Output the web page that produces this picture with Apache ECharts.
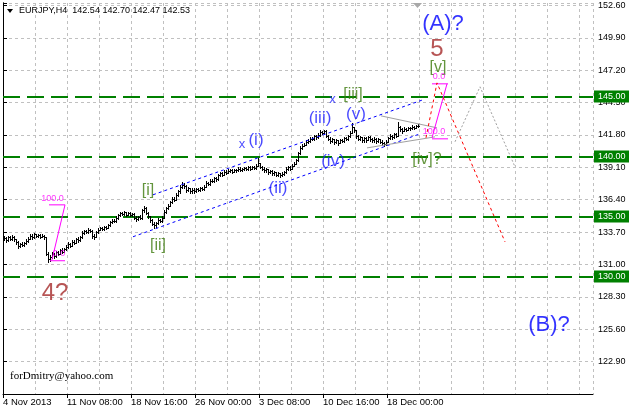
<!DOCTYPE html>
<html><head><meta charset="utf-8">
<script src="https://cdn.jsdelivr.net/npm/echarts@6/dist/echarts.min.js"></script>
<style>html,body{margin:0;padding:0;background:#fff}#c{width:629px;height:410px}</style>
</head><body><div id="c"></div>
<script>
// ---- data ----
var firstOpen = 133.30;
var closes = [133.20,133.05,133.25,133.15,133.30,133.10,
132.85,132.55,132.70,132.60,132.80,132.95,
133.15,133.40,133.25,133.50,133.35,133.45,133.30,133.40,133.25,
131.90,
131.45,131.60,
131.85,131.70,132.00,131.90,132.20,132.05,132.30,132.45,
132.70,132.55,132.90,132.80,133.10,133.00,133.25,
133.60,133.75,133.70,133.85,133.80,
133.35,133.30,
133.70,133.90,134.00,133.95,134.10,134.05,134.25,
134.50,134.65,134.60,134.85,
135.10,135.25,135.20,135.35,135.15,135.30,135.10,135.20,
134.90,134.80,134.95,134.85,
135.50,135.70,
135.30,135.00,134.70,
134.40,134.25,134.45,
134.70,134.60,134.90,
135.40,135.70,135.90,136.20,136.50,136.40,136.80,137.10,
137.45,137.65,137.55,
137.20,137.35,137.10,137.25,137.15,137.30,137.20,137.40,137.30,137.50,
137.80,137.70,138.00,137.95,138.20,138.10,
138.45,138.60,138.50,138.75,138.65,138.80,
138.85,138.75,138.90,138.85,139.00,138.90,138.95,139.05,138.95,139.10,139.00,139.15,139.05,139.25,
139.45,
139.15,139.00,138.85,138.95,138.70,138.80,138.60,138.70,
138.50,138.60,138.45,138.55,138.70,
138.95,139.10,139.00,139.25,139.40,
139.70,140.30,140.70,140.90,141.00,141.20,141.30,
141.50,141.45,141.70,141.60,141.80,
142.05,141.95,142.15,
141.70,141.50,141.30,141.45,141.20,141.35,141.15,141.40,141.30,141.55,141.45,141.70,
142.00,142.45,142.20,
141.70,141.50,141.60,141.35,141.55,141.40,141.60,141.45,141.35,141.50,141.30,141.45,141.25,
141.10,141.05,141.25,
141.55,141.70,141.60,141.85,141.75,
142.50,142.30,
142.15,142.30,142.25,142.40,142.35,142.50,142.40,142.54,142.53];
var highs = [133.40,133.30,133.35,133.40,133.45,133.35,
133.15,132.95,132.80,132.85,132.90,133.10,
133.30,133.55,133.50,133.60,133.55,133.55,133.50,133.55,133.45,
133.30,
132.00,131.75,
132.00,131.95,132.10,132.15,132.30,132.35,132.40,132.60,
132.85,132.80,133.00,133.05,133.20,133.25,133.40,
133.75,133.90,133.85,134.00,133.95,
133.85,133.50,
133.80,134.00,134.15,134.10,134.20,134.20,134.40,
134.65,134.80,134.75,135.00,
135.20,135.40,135.35,135.45,135.40,135.40,135.35,135.30,
135.25,135.00,135.05,135.10,
135.60,135.85,
135.75,135.40,135.05,
134.80,134.50,134.55,
134.85,134.80,135.05,
135.50,135.80,136.05,136.30,136.65,136.60,136.95,137.25,
137.60,137.85,137.80,
137.60,137.45,137.40,137.35,137.35,137.40,137.40,137.50,137.50,137.65,
137.95,137.90,138.10,138.10,138.30,138.30,
138.55,138.75,138.70,138.85,138.85,138.95,
139.00,138.95,139.00,139.00,139.10,139.10,139.05,139.15,139.15,139.20,139.20,139.25,139.25,139.40,
139.85,
139.50,139.25,139.10,139.05,139.00,138.90,138.85,138.80,
138.75,138.70,138.65,138.70,138.80,
139.10,139.20,139.20,139.35,139.55,
139.80,140.40,140.85,141.05,141.15,141.35,141.45,
141.65,141.60,141.80,141.80,141.95,
142.20,142.15,142.25,
142.20,141.80,141.60,141.55,141.50,141.45,141.40,141.50,141.50,141.65,141.65,141.80,
142.15,142.80,142.50,
142.25,141.80,141.75,141.65,141.65,141.60,141.70,141.70,141.55,141.60,141.55,141.55,141.50,
141.35,141.20,141.35,
141.65,141.85,141.80,141.95,141.95,
142.90,142.55,
142.40,142.45,142.40,142.50,142.50,142.60,142.55,142.65,142.70];
var lows = [133.05,132.90,132.95,133.00,133.05,132.95,
132.70,132.40,132.45,132.50,132.55,132.70,
132.85,133.10,133.15,133.20,133.25,133.25,133.20,133.25,133.10,
131.75,
131.20,131.30,
131.50,131.55,131.65,131.80,131.85,131.95,132.00,132.20,
132.40,132.45,132.50,132.70,132.75,132.90,132.95,
133.20,133.50,133.60,133.65,133.70,
133.20,133.15,
133.25,133.60,133.85,133.85,133.90,133.95,134.00,
134.20,134.45,134.50,134.55,
134.80,135.05,135.10,135.15,135.05,135.10,135.00,135.00,
134.75,134.65,134.70,134.75,
134.80,135.40,
135.20,134.90,134.55,
134.25,134.05,134.15,
134.40,134.50,134.55,
134.85,135.30,135.60,135.85,136.10,136.25,136.35,136.70,
137.00,137.40,137.40,
137.05,137.10,136.95,137.00,137.00,137.05,137.10,137.15,137.20,137.25,
137.45,137.60,137.65,137.85,137.90,138.00,
138.05,138.40,138.40,138.45,138.55,138.60,
138.70,138.65,138.70,138.75,138.80,138.80,138.80,138.90,138.85,138.90,138.90,138.95,138.95,139.00,
139.20,
139.05,138.85,138.70,138.75,138.55,138.60,138.45,138.50,
138.35,138.40,138.30,138.40,138.45,
138.65,138.85,138.90,138.95,139.20,
139.35,139.65,140.20,140.60,140.85,140.95,141.10,
141.25,141.35,141.40,141.50,141.55,
141.75,141.85,141.90,
141.60,141.40,141.15,141.20,141.05,141.10,141.00,141.10,141.20,141.25,141.35,141.40,
141.65,141.95,142.05,
141.55,141.35,141.40,141.20,141.25,141.25,141.35,141.30,141.20,141.25,141.15,141.20,141.10,
140.95,140.90,140.95,
141.20,141.45,141.50,141.55,141.65,
141.70,142.15,
142.00,142.10,142.15,142.20,142.25,142.30,142.30,142.35,142.47];

var timeLabels = ['4 Nov 2013','11 Nov 08:00','18 Nov 16:00','26 Nov 00:00','3 Dec 08:00','10 Dec 16:00','18 Dec 00:00'];
var timeLabelBars = [0,32,64,96,128,160,192];
var priceTicks = [122.9,125.6,128.3,131.0,133.7,136.4,139.1,141.8,144.5,147.2,149.9,152.6];
var levels = [145,140,135,130];
var headerText = 'EURJPY,H4  142.54 142.70 142.47 142.53';

// annotation lines, in [bar, price]
var channelUpper = [[75,136.81],[210,144.73]];
var channelLower = [[65,133.31],[208.5,141.89]];
var triUpper = [[189,143.39],[217,142.39]];
var triLower = [[182,140.72],[216,141.64]];
var fibLeftTop = [[23,135.97],[31,135.97]];
var fibLeftBottom = [[23.5,131.31],[31,131.31]];
var fibLeftDiag = [[31,135.97],[24.5,131.39]];
var fibRightTop = [[214.5,146.06],[222.5,146.06]];
var fibRightBottom = [[214.5,141.475],[222.5,141.475]];
var fibRightDiag = [[222,146.06],[214.5,141.56]];
var redPath = [[211.5,141.56],[217,146.14],[251,132.89]];
var grayPath = [[226,141.23],[238.5,145.81],[256,139.14]];

// text annotations: [text, bar, price]
var bigBlueLabels = [['(A)?',220,151.06],['(B)?',273,125.975]];
var redLabels = [['5',217,148.975],['4?',26,128.56]];
var greenLabels = [['[v]',217.5,147.39],['[iii]',175,145.14],['[iv]?',212,139.72],['[i]',72.5,137.14],['[ii]',77.5,132.56]];
var blueLabels = [['(iii)',158.5,143.225],['(v)',176.5,143.56],['(i)',126.5,141.31],['(ii)',137.5,137.31],['(iv)',165,139.64]];
var smallX = [['x',164.75,144.77],['x',119.5,140.975]];
var fibTexts = [['100.0',24.75,136.52],['0.0',28,131.89],['0.0',218,146.64],['100.0',215.5,142.06]];

if (closes.length !== highs.length || closes.length !== lows.length) {
  throw new Error('length mismatch ' + closes.length + ' ' + highs.length + ' ' + lows.length);
}

var bars = closes.map(function (c, i) {
  var o = i === 0 ? firstOpen : closes[i - 1];
  return [i + 0.5, o, c, lows[i], highs[i]];
});

var SANS = '"Liberation Sans", Arial, sans-serif';

function lineSeries(data, color, type, width) {
  return {
    type: 'line', data: data, symbol: 'none', silent: true, z: 6,
    lineStyle: { color: color, type: type, width: width || 1 },
    animation: false
  };
}
function textSeries(list, color, size) {
  return {
    type: 'scatter', symbolSize: 1, silent: true, z: 10,
    itemStyle: { color: 'rgba(0,0,0,0)' },
    data: list.map(function (d) { return { value: [d[1], d[2]], name: d[0] }; }),
    label: { show: true, position: 'inside', formatter: '{b}', color: color,
      fontSize: size, fontFamily: SANS, align: 'center', verticalAlign: 'middle' },
    animation: false
  };
}

var chart = echarts.init(document.getElementById('c'), null, { renderer: 'canvas' });
chart.setOption({
  animation: false,
  backgroundColor: '#ffffff',
  grid: { left: 3, right: 36, top: 3, bottom: 16, containLabel: false },
  xAxis: [
    { type: 'value', min: 0, max: 295, interval: 16,
      axisLine: { show: true, lineStyle: { color: '#000', width: 1 } },
      axisTick: { show: false }, axisLabel: { show: false },
      splitLine: { show: true, lineStyle: { color: '#c0c0c0', type: [3, 3], width: 1 } } },
    { type: 'value', min: 0, max: 295, interval: 32, position: 'bottom',
      axisLine: { show: false },
      axisTick: { show: true, length: 4, inside: false, customValues: timeLabelBars, lineStyle: { color: '#000' } },
      axisLabel: { show: true, customValues: timeLabelBars, align: 'left', margin: 3, fontSize: 9.5,
        fontFamily: SANS, color: '#000',
        formatter: function (v) { var k = timeLabelBars.indexOf(Math.round(v)); return k >= 0 ? timeLabels[k] : ''; } },
      splitLine: { show: false } }
  ],
  yAxis: [
    { type: 'value', position: 'right', min: 120.2, max: 152.8, interval: 2.7,
      axisLine: { show: true, lineStyle: { color: '#000', width: 1 } },
      axisTick: { show: true, length: 4, lineStyle: { color: '#000' } },
      axisLabel: { show: true, margin: 5, fontSize: 9, fontFamily: SANS, color: '#000',
        formatter: function (v) {
          var r = Math.round(v * 10) / 10;
          for (var k = 0; k < priceTicks.length; k++) { if (Math.abs(priceTicks[k] - r) < 1e-6) return priceTicks[k].toFixed(2); }
          return '';
        } },
      splitLine: { show: true, lineStyle: { color: '#c0c0c0', type: [3, 3], width: 1 } } },
    { type: 'value', position: 'left', min: 120.2, max: 152.8,
      axisLine: { show: true, lineStyle: { color: '#000', width: 1 } },
      axisTick: { show: false }, axisLabel: { show: false }, splitLine: { show: false } }
  ],
  graphic: [
    { type: 'polygon', shape: { points: [[7, 9], [13, 9], [10, 13]] }, style: { fill: '#000' }, z: 20 },
    { type: 'text', left: 19, top: 6, style: { text: headerText, fill: '#000', font: '9px ' + SANS }, z: 20 },
    { type: 'polygon', shape: { points: [[413, 3], [422, 3], [417.5, 8]] }, style: { fill: '#a8a8a8' }, z: 20 },
    { type: 'text', left: 10, top: 371, style: { text: 'forDmitry@yahoo.com', fill: '#000', font: '11px "Liberation Serif", "Times New Roman", serif' }, z: 20 }
  ],
  series: [
    { type: 'line', data: [], symbol: 'none', silent: true, z: 4,
      markLine: { silent: true, symbol: ['none', 'none'], animation: false,
        lineStyle: { color: '#008000', type: [17, 7], width: 2 },
        label: { show: true, position: 'end', distance: 1, formatter: function (p) { return p.value.toFixed(2); },
          color: '#fff', backgroundColor: '#008000', padding: [2, 4, 1, 4], fontSize: 9, fontFamily: SANS },
        data: levels.map(function (l) { return { yAxis: l }; }) } },
    { type: 'custom', data: bars, encode: { x: 0, y: [1, 2, 3, 4] }, z: 5, animation: false,
      renderItem: function (params, api) {
        var x = api.value(0);
        var pO = api.coord([x, api.value(1)]), pC = api.coord([x, api.value(2)]);
        var pL = api.coord([x, api.value(3)]), pH = api.coord([x, api.value(4)]);
        var cx = Math.floor(pO[0]);
        var top = Math.round(pH[1]), bot = Math.round(pL[1]);
        return { type: 'group', children: [
          { type: 'rect', shape: { x: cx, y: top, width: 1, height: Math.max(1, bot - top + 1) }, style: { fill: '#000' } },
          { type: 'rect', shape: { x: cx - 1, y: Math.round(pO[1]), width: 1, height: 1 }, style: { fill: '#000' } },
          { type: 'rect', shape: { x: cx + 1, y: Math.round(pC[1]), width: 1, height: 1 }, style: { fill: '#000' } }
        ] };
      } },
    lineSeries(channelUpper, '#0000ff', [3, 3]),
    lineSeries(channelLower, '#0000ff', [3, 3]),
    lineSeries(triUpper, '#a0a0a0', 'solid'),
    lineSeries(triLower, '#a0a0a0', 'solid'),
    lineSeries(fibLeftTop, '#ff00ff', 'solid'),
    lineSeries(fibLeftBottom, '#ff00ff', 'solid'),
    lineSeries(fibLeftDiag, '#ff00ff', 'solid'),
    lineSeries(fibRightTop, '#ff00ff', 'solid'),
    lineSeries(fibRightBottom, '#ff00ff', 'solid'),
    lineSeries(fibRightDiag, '#ff00ff', 'solid'),
    lineSeries(redPath, '#ff0000', [3, 3]),
    lineSeries(grayPath, '#a0a0a0', [2, 2]),
    textSeries(bigBlueLabels, '#0000ff', 22),
    textSeries(redLabels, '#a52a2a', 24),
    textSeries(greenLabels, '#3c7a0c', 16),
    textSeries(blueLabels, '#1a1aff', 17),
    textSeries(smallX, '#1a1aff', 13),
    textSeries(fibTexts, '#ff00ff', 9)
  ]
});
</script>
</body></html>
